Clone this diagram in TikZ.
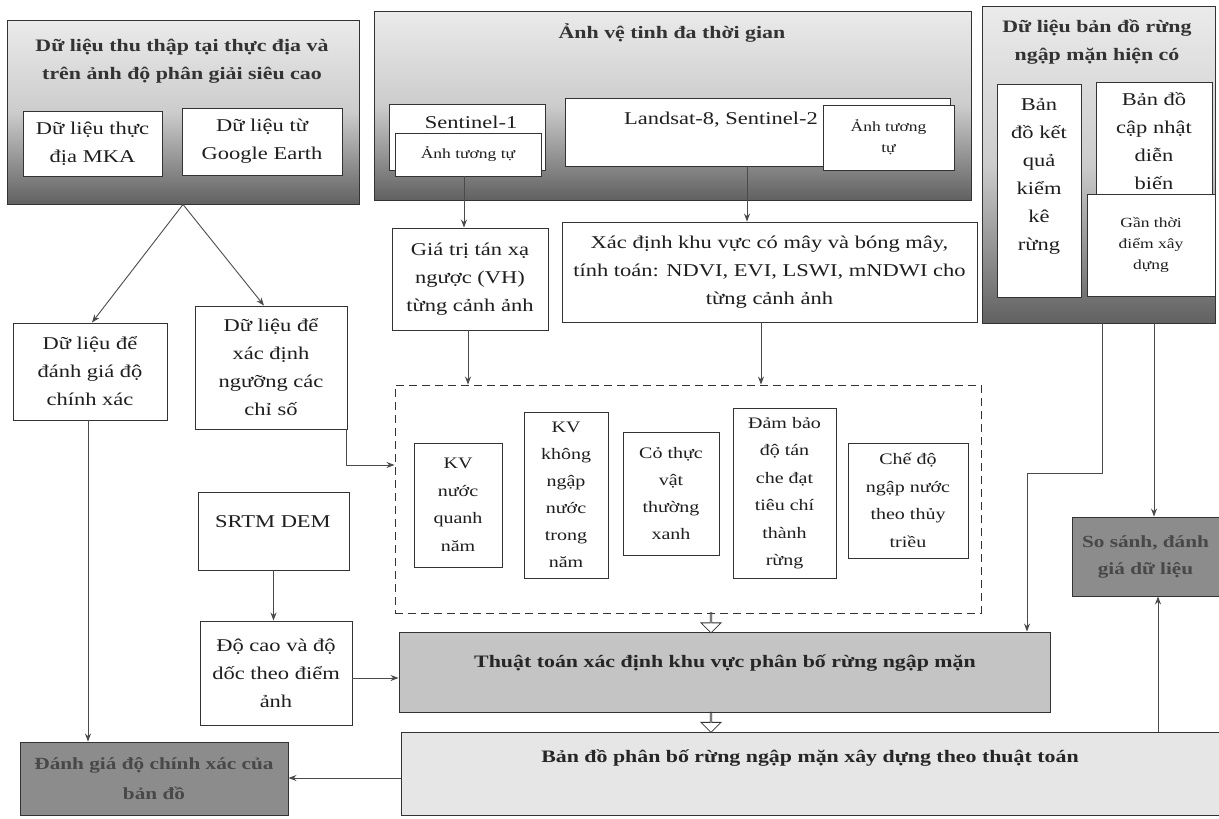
\documentclass[tikz,border=0pt]{standalone}
\usepackage{fontspec}
\setmainfont{Liberation Serif}[FakeStretch=1.25]
\usetikzlibrary{arrows.meta,shapes.arrows,calc}
\definecolor{ln}{HTML}{333333}
\definecolor{txt}{HTML}{1E1E1E}
\definecolor{darkfill}{HTML}{8C8C8C}
\definecolor{darktxt}{HTML}{484848}
\definecolor{midfill}{HTML}{C4C4C4}
\definecolor{lightfill}{HTML}{E6E6E6}
\definecolor{arrc}{HTML}{4A4A4A}
\newcommand\bx[7]{\node[#6,minimum width={(#4-#2)*1pt},minimum height={(#5-#3)*1pt}] (#1) at ({(#2+#4)/2},{(#3+#5)/2}) {#7};}
\tikzset{
  box/.style={draw=ln,line width=0.9pt,fill=white,inner sep=0pt,align=center,
    font=\fontsize{18}{28}\selectfont,text=txt},
  inbox/.style={box,font=\fontsize{16}{27.5}\selectfont},
  smallbox/.style={box,font=\fontsize{14}{21}\selectfont},
  grp/.style={draw=ln,line width=0.9pt,inner sep=0pt,top color=black!8,bottom color=black!62,middle color=black!20},
  txtn/.style={inner sep=0pt,align=center,font=\fontsize{18}{28}\selectfont,text=txt},
  ttl/.style={inner sep=0pt,align=center,font=\fontsize{17.5}{28}\selectfont\bfseries,text=black!80},
  darkbox/.style={draw=ln,line width=0.9pt,fill=darkfill,inner sep=0pt,align=center,
    font=\fontsize{17}{30}\selectfont\bfseries,text=darktxt},
  midbox/.style={draw=ln,line width=0.9pt,fill=midfill,inner sep=0pt},
  lightbox/.style={draw=ln,line width=0.9pt,fill=lightfill,inner sep=0pt},
  dashbox/.style={draw=ln,line width=0.9pt,dash pattern=on 8pt off 5pt,inner sep=0pt},
  arr/.style={draw=arrc,line width=0.9pt,-{Stealth[length=8pt,width=6pt]}},
  harrow/.style={single arrow,draw=ln,line width=0.8pt,fill=white,rotate=-90,inner sep=0pt,
    minimum height=20pt,minimum width=20pt,single arrow head extend=5pt,
    single arrow head indent=0pt}
}
\begin{document}
\begin{tikzpicture}[x=1pt,y=-1pt]
\useasboundingbox[fill=white] (0,0) rectangle (1219,819);

% ---- top-left group
\bx{tl}{7}{20}{359}{204}{grp}{}
\node[ttl] (tlt) at (182,61) {Dữ liệu thu thập tại thực địa và\\trên ảnh độ phân giải siêu cao};
\bx{mka}{23}{111}{162}{176}{box}{Dữ liệu thực\\địa MKA}
\bx{ge}{182}{108}{342}{175}{box}{Dữ liệu từ\\Google Earth}

% ---- top-middle group
\bx{tm}{374}{11}{971}{200}{grp}{}
\node[ttl] (tmt) at (672,33) {Ảnh vệ tinh đa thời gian};
\bx{s1}{389}{104}{545}{170}{box}{}
\node[txtn] (s1t) at (471,122) {Sentinel-1};
\bx{s1b}{395}{133}{541}{176}{smallbox}{Ảnh tương tự}
\bx{ls}{565}{98}{950}{166}{box}{}
\node[txtn] (lst) at (721,120) {Landsat-8, Sentinel-2};
\bx{lsb}{823}{105}{954}{170}{smallbox}{Ảnh tương\\tự}

% ---- top-right group
\bx{tr}{982}{6}{1215}{323}{grp}{}
\node[ttl] (trt) at (1097,42) {Dữ liệu bản đồ rừng\\ngập mặn hiện có};
\bx{kk}{997}{84}{1081}{297}{box}{}
\node[txtn] (kkt) at (1039,176) {Bản\\đồ kết\\quả\\kiểm\\kê\\rừng};
\bx{cn}{1096}{82}{1212}{200}{box}{Bản đồ\\cập nhật\\diễn\\biến}
\bx{gt}{1087}{194}{1215}{296}{smallbox}{Gần thời\\điểm xây\\dựng}

% ---- left column
\bx{dg}{13}{323}{167}{420}{box}{Dữ liệu để\\đánh giá độ\\chính xác}
\bx{ng}{195}{306}{347}{429}{box}{Dữ liệu để\\xác định\\ngưỡng các\\chỉ số}
\bx{srtm}{198}{492}{349}{570}{box}{}
\node[txtn] (srtmt) at (273,522) {SRTM DEM};
\bx{dc}{200}{621}{352}{725}{box}{Độ cao và độ\\dốc theo điểm\\ảnh}

% ---- middle
\bx{vh}{392}{228}{548}{330}{box}{Giá trị tán xạ\\ngược (VH)\\từng cảnh ảnh}
\bx{may}{562}{222}{977}{322}{box}{Xác định khu vực có mây và bóng mây,\\tính toán: NDVI, EVI, LSWI, mNDWI cho\\từng cảnh ảnh}

\bx{dash}{395}{385}{981}{613}{dashbox}{}
\bx{k1}{414}{443}{502}{567}{inbox}{KV\\nước\\quanh\\năm}
\bx{k2}{524}{412}{608}{578}{inbox,font=\fontsize{16}{27}\selectfont}{KV\\không\\ngập\\nước\\trong\\năm}
\bx{k3}{623}{432}{719}{555}{inbox,font=\fontsize{16}{27}\selectfont}{Cỏ thực\\vật\\thường\\xanh}
\bx{k4}{733}{408}{836}{578}{inbox}{Đảm bảo\\độ tán\\che đạt\\tiêu chí\\thành\\rừng}
\bx{k5}{848}{443}{968}{558}{inbox}{Chế độ\\ngập nước\\theo thủy\\triều}

% ---- bottom
\bx{tt}{399}{632}{1050}{712}{midbox}{}
\node[ttl,text=black!85] (ttt) at (725,663) {Thuật toán xác định khu vực phân bố rừng ngập mặn};
\bx{bd}{401}{732}{1219}{815}{lightbox}{}
\node[ttl,text=black!85] (bdt) at (810,758) {Bản đồ phân bố rừng ngập mặn xây dựng theo thuật toán};
\bx{dgb}{20}{742}{288}{815}{darkbox}{Đánh giá độ chính xác của\\bản đồ}
\bx{ss}{1072}{517}{1219}{596}{darkbox,font=\fontsize{17}{27}\selectfont\bfseries}{So sánh, đánh\\giá dữ liệu}

% ---- connectors
\draw[arr] (tl.south) -- ([xshift=2pt]dg.north);
\draw[arr] (tl.south) -- ([xshift=-7pt]ng.north);
\draw[arr] ([xshift=-2pt]dg.south) -- ([xshift=-2pt]dg.south |- dgb.north);
\draw[arr] ([xshift=-1pt]ng.south east) |- ([yshift=34pt]dash.west);
\draw[arr] (srtm.south) -- (srtm.south |- dc.north);
\draw[arr] ([yshift=-5pt]dc.east) -- ([yshift=-5pt]dc.east -| tt.west);
\draw[arr] ([xshift=-4pt]s1b.south) -- ([xshift=-4pt]s1b.south |- vh.north);
\draw[arr] ([xshift=-10.5pt]ls.south) -- ([xshift=-10.5pt]ls.south |- may.north);
\draw[arr] ([xshift=-2pt]vh.south) -- ([xshift=-2pt]vh.south |- dash.north);
\draw[arr] ([xshift=-8.5pt]may.south) -- ([xshift=-8.5pt]may.south |- dash.north);
\draw[arr] ([yshift=-4.5pt]bd.west) -- ([yshift=-4.5pt]bd.west -| dgb.east);
\draw[arr] ([xshift=12.5pt]ss.south |- bd.north) -- ([xshift=12.5pt]ss.south);
\draw[arr] ([xshift=8.5pt]ss.north |- tr.south) -- ([xshift=8.5pt]ss.north);
\draw[arr] ([xshift=3.5pt]tr.south) -- ++(0,150) -| ([xshift=302.5pt]tt.north);
\node[harrow] (ha1) at (711,622.5) {};
\node[harrow] (ha2) at (711,722) {};
\end{tikzpicture}
\end{document}
